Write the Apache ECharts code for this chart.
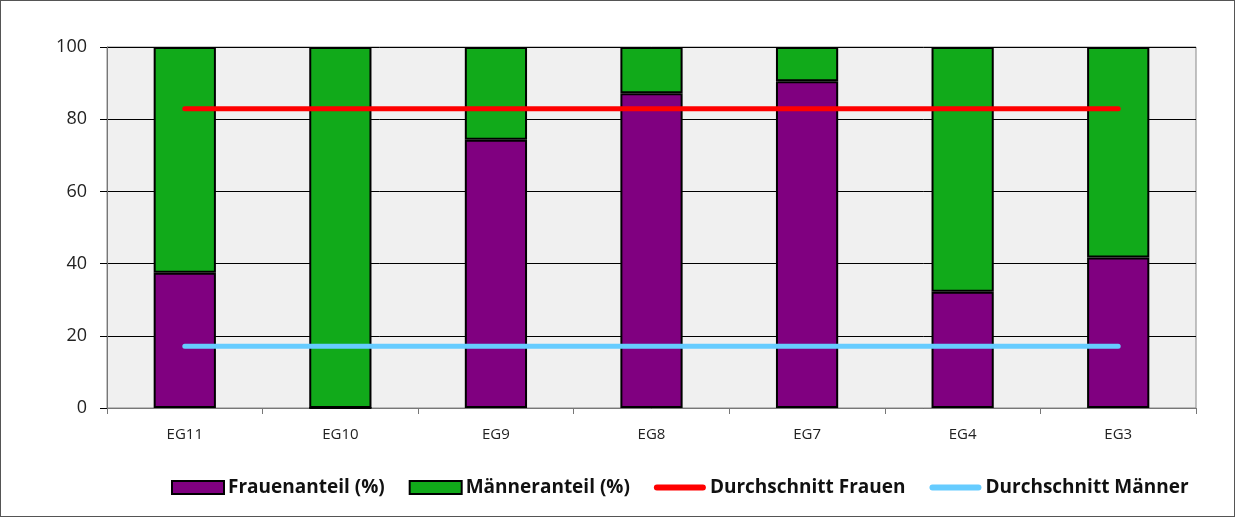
<!DOCTYPE html>
<html>
<head>
<meta charset="utf-8">
<script src="https://cdn.jsdelivr.net/npm/echarts@6/dist/echarts.min.js"></script>
<style>
  html, body { margin: 0; padding: 0; background: #fff; }
  #chart { width: 1233px; height: 515px; border: 1px solid #555; }
</style>
</head>
<body>
<div id="chart"></div>
<script>
var categories = ['EG11', 'EG10', 'EG9', 'EG8', 'EG7', 'EG4', 'EG3'];
var frauen = [37.5, 0, 74.3, 87.2, 90.5, 32.2, 41.7];
var maenner = [62.5, 100, 25.7, 12.8, 9.5, 67.8, 58.3];
var avgFrauen = [82.9, 82.9, 82.9, 82.9, 82.9, 82.9, 82.9];
var avgMaenner = [17.1, 17.1, 17.1, 17.1, 17.1, 17.1, 17.1];
var yTicks = [0, 20, 40, 60, 80, 100];

var chart = echarts.init(document.getElementById('chart'));

var barStyle = function(color) {
    return { color: color, borderColor: '#000', borderWidth: 2 };
};
// rounded bar used as legend icon for the average lines
var lineIcon = 'path://M3,0 L49,0 A3,3 0 0 1 49,6 L3,6 A3,3 0 0 1 3,0 Z';

var option = {
    animation: false,
    textStyle: { fontFamily: 'Open Sans' },
    grid: {
        left: 106, right: 38, top: 46, bottom: 108,
        show: true,
        backgroundColor: '#f0f0f0',
        borderColor: '#888',
        borderWidth: 1
    },
    legend: {
        bottom: 14,
        left: 165,
        itemGap: 24,
        itemWidth: 52,
        itemHeight: 13,
        textStyle: { fontFamily: 'Open Sans', fontWeight: 'bold', fontSize: 19, color: '#111', padding: [0, 0, 0, -1] },
        data: [
            { name: 'Frauenanteil (%)', icon: 'rect' },
            { name: 'Männeranteil (%)', icon: 'rect' },
            { name: 'Durchschnitt Frauen', icon: lineIcon, itemStyle: { color: '#ff0000', borderWidth: 0 } },
            { name: 'Durchschnitt Männer', icon: lineIcon, itemStyle: { color: '#66ccff', borderWidth: 0 } }
        ]
    },
    xAxis: {
        type: 'category',
        data: categories,
        boundaryGap: true,
        axisLine: { lineStyle: { color: '#777', width: 1 } },
        axisTick: { show: true, alignWithLabel: false, length: 6, lineStyle: { color: '#777' } },
        axisLabel: { color: '#222', fontSize: 15, margin: 19 }
    },
    yAxis: {
        type: 'value',
        min: yTicks[0],
        max: yTicks[yTicks.length - 1],
        interval: 20,
        axisLine: { show: true, lineStyle: { color: '#777' } },
        axisTick: { show: true, length: 7, lineStyle: { color: '#000' } },
        splitLine: { lineStyle: { color: '#000', width: 1 } },
        axisLabel: { color: '#222', fontSize: 18, margin: 20 }
    },
    series: [
        {
            name: 'Frauenanteil (%)',
            type: 'bar',
            stack: 'anteil',
            barWidth: '40%',
            data: frauen,
            itemStyle: barStyle('#800080')
        },
        {
            name: 'Männeranteil (%)',
            type: 'bar',
            stack: 'anteil',
            barWidth: '40%',
            data: maenner,
            itemStyle: barStyle('#11aa1a')
        },
        {
            name: 'Durchschnitt Frauen',
            type: 'line',
            data: avgFrauen,
            symbol: 'none',
            z: 5,
            lineStyle: { color: '#ff0000', width: 5, cap: 'round' },
            itemStyle: { color: '#ff0000' }
        },
        {
            name: 'Durchschnitt Männer',
            type: 'line',
            data: avgMaenner,
            symbol: 'none',
            z: 5,
            lineStyle: { color: '#66ccff', width: 5, cap: 'round' },
            itemStyle: { color: '#66ccff' }
        }
    ]
};

chart.setOption(option);
</script>
</body>
</html>
